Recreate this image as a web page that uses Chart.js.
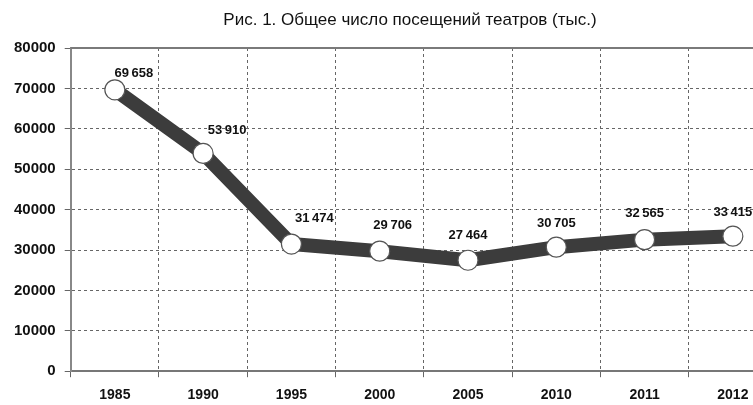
<!DOCTYPE html>
<html lang="ru">
<head>
    <meta charset="UTF-8">
    <title>Рис. 1</title>
    <script src="https://cdn.jsdelivr.net/npm/chart.js"></script>
    <style>
        html, body { margin: 0; padding: 0; background: #fff; overflow: hidden; }
        .chart-box { width: 820px; height: 405px; }
    </style>
</head>
<body>
    <div class="chart-box">
        <canvas id="theatreChart" width="820" height="405"></canvas>
    </div>

    <script>
        // данные
        const years = ['1985', '1990', '1995', '2000', '2005', '2010', '2011', '2012'];
        const visits = [69658, 53910, 31474, 29706, 27464, 30705, 32565, 33415];
        const yTicks = [0, 10000, 20000, 30000, 40000, 50000, 60000, 70000, 80000];
        const chartTitle = 'Рис. 1. Общее число посещений театров (тыс.)';

        // смещения подписей от точки (px)
        const labelShift = [[19, -16], [24, -23], [23, -26], [13, -26], [0, -25], [0, -24], [0, -26], [0, -24]];

        const fontFam = "'Liberation Sans', Arial, sans-serif";

        const fmt = v => String(v).replace(/\B(?=(\d{3})+(?!\d))/g, '\u2009');

        // заголовок, подписи значений и верхняя рамка
        const extras = {
            id: 'extras',
            beforeDatasetsDraw(chart) {
                const { ctx, chartArea } = chart;
                ctx.save();
                ctx.strokeStyle = '#7a7a7a';
                ctx.lineWidth = 2;
                ctx.beginPath();
                ctx.moveTo(chartArea.left, chartArea.top);
                ctx.lineTo(chartArea.right, chartArea.top);
                ctx.stroke();
                ctx.restore();
            },
            afterDatasetsDraw(chart) {
                const ctx = chart.ctx;
                const meta = chart.getDatasetMeta(0);
                ctx.save();
                ctx.font = 'bold 13px ' + fontFam;
                ctx.fillStyle = '#111';
                ctx.textAlign = 'center';
                ctx.textBaseline = 'middle';
                meta.data.forEach((pt, i) => {
                    const s = labelShift[i];
                    ctx.fillText(fmt(visits[i]), pt.x + s[0], pt.y + s[1]);
                });
                // заголовок по центру всего рисунка
                ctx.font = '17px ' + fontFam;
                ctx.fillText(chartTitle, chart.width / 2, 20);
                ctx.restore();
            }
        };

        const ctx = document.getElementById('theatreChart').getContext('2d');
        new Chart(ctx, {
            type: 'line',
            data: {
                labels: years,
                datasets: [{
                    data: visits,
                    borderColor: '#3c3c3c',
                    borderWidth: 14,
                    borderJoinStyle: 'round',
                    tension: 0,
                    pointRadius: 10,
                    pointBackgroundColor: '#fff',
                    pointBorderColor: '#555',
                    pointBorderWidth: 1.2,
                    fill: false
                }]
            },
            options: {
                responsive: false,
                animation: false,
                layout: { padding: { left: 5, right: 43, top: 48, bottom: -9 } },
                plugins: {
                    legend: { display: false },
                    tooltip: { enabled: false },
                    title: { display: false }
                },
                scales: {
                    x: {
                        offset: true,
                        grid: {
                            offset: true,
                            color: '#666',
                            tickLength: 6,
                            drawTicks: true
                        },
                        border: { display: true, color: '#777', width: 2, dash: [3, 3] },
                        ticks: {
                            color: '#111',
                            padding: 10,
                            font: { family: fontFam, size: 14, weight: 'bold' }
                        }
                    },
                    y: {
                        min: 0,
                        max: 80000,
                        afterBuildTicks: axis => { axis.ticks = yTicks.map(v => ({ value: v })); },
                        grid: {
                            color: '#666',
                            tickLength: 6
                        },
                        border: { display: true, color: '#888', width: 2, dash: [3, 3] },
                        ticks: {
                            color: '#111',
                            padding: 9,
                            callback: v => String(v),
                            font: { family: fontFam, size: 15, weight: 'bold' }
                        }
                    }
                }
            },
            plugins: [extras]
        });
    </script>
</body>
</html>
